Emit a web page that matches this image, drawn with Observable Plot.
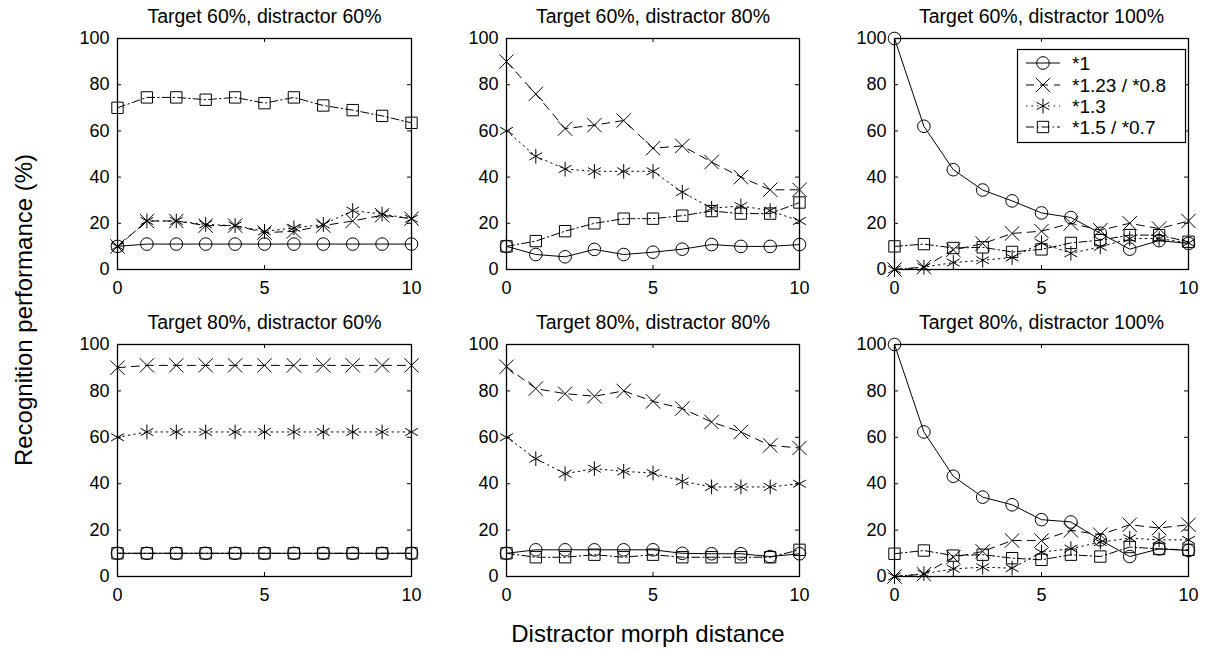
<!DOCTYPE html>
<html><head><meta charset="utf-8">
<script src="https://cdn.jsdelivr.net/npm/d3@7"></script>
<script src="https://cdn.jsdelivr.net/npm/@observablehq/plot@0.6"></script>
<style>
html,body{margin:0;padding:0;background:#fff;}
#fig{position:relative;width:1205px;height:652px;font-family:"Liberation Sans",Arial,sans-serif;overflow:hidden;}
#fig svg{position:absolute;overflow:visible;}
</style></head><body><div id="fig"></div>
<script>
// ---- data ----
const distance = [0, 1, 2, 3, 4, 5, 6, 7, 8, 9, 10];
const xTicks = [0, 5, 10];
const yTicks = [0, 20, 40, 60, 80, 100];
const seriesNames = ["*1", "*1.23 / *0.8", "*1.3", "*1.5 / *0.7"];
const panelTitles = [
  "Target 60%, distractor 60%", "Target 60%, distractor 80%", "Target 60%, distractor 100%",
  "Target 80%, distractor 60%", "Target 80%, distractor 80%", "Target 80%, distractor 100%"
];
const xLabel = "Distractor morph distance";
const yLabel = "Recognition performance (%)";

// Target 60%, distractor 60%
const t60d60_circle = [10, 11, 11, 11, 11, 11, 11, 11, 11, 11, 11];
const t60d60_times  = [10, 21, 21, 19, 19, 16, 16.5, 19, 21, 23.5, 22];
const t60d60_star   = [10, 21, 21, 19.5, 19, 16.5, 18, 19.5, 25.5, 24, 22];
const t60d60_square = [70, 74.5, 74.5, 73.5, 74.5, 72, 74.5, 71, 69, 66.5, 63.5];
// Target 60%, distractor 80%
const t60d80_circle = [10, 6.5, 5.5, 8.7, 6.5, 7.5, 8.8, 10.8, 10, 10, 10.8];
const t60d80_times  = [90, 76, 61, 62.5, 64.5, 52.5, 53.5, 46.5, 40, 34.5, 34.5];
const t60d80_star   = [60, 49, 43.5, 42.5, 42.5, 42.5, 33.5, 26.5, 27.5, 25.5, 21];
const t60d80_square = [10, 12.3, 16.6, 20, 22, 22, 23.3, 25.3, 24.2, 24.2, 29];
// Target 60%, distractor 100%
const t60d100_circle = [100, 62, 43.2, 34.4, 29.7, 24.5, 22.5, 15.7, 8.8, 12.5, 11.3];
const t60d100_times  = [0, 1, 8.5, 11.2, 15.6, 16.6, 20, 17, 20, 17.7, 21];
const t60d100_star   = [0, 1, 3, 4, 5.2, 11.5, 7, 9.8, 13.4, 13.4, 11.5];
const t60d100_square = [10, 11, 9.3, 9.6, 7.6, 8.7, 11.5, 12.7, 14.9, 14.9, 12];
// Target 80%, distractor 60%
const t80d60_circle = [10, 10, 10, 10, 10, 10, 10, 10, 10, 10, 10];
const t80d60_times  = [90, 91, 91, 91, 91, 91, 91, 91, 91, 91, 91];
const t80d60_star   = [60, 62.3, 62.3, 62.3, 62.3, 62.3, 62.3, 62.3, 62.3, 62.3, 62.3];
const t80d60_square = [10, 10, 10, 10, 10, 10, 10, 10, 10, 10, 10];
// Target 80%, distractor 80%
const t80d80_circle = [10, 11.5, 11.5, 11.5, 11.5, 11.5, 10, 9.8, 9.8, 8.6, 9.8];
const t80d80_times  = [90.4, 81, 78.8, 77.7, 80, 75.5, 72.4, 66.6, 62.3, 56.5, 55.4];
const t80d80_star   = [60, 50.8, 44.3, 46.5, 45.3, 44.6, 41, 38.6, 38.6, 38.6, 40];
const t80d80_square = [10, 8.3, 8.3, 9.4, 8.3, 9.4, 8.3, 8.3, 8.3, 8.3, 11.5];
// Target 80%, distractor 100%
const t80d100_circle = [100, 62.3, 43.2, 34.2, 30.9, 24.5, 23.5, 15.8, 8.6, 11.9, 11.2];
const t80d100_times  = [0, 1, 8.3, 10.8, 15.5, 15.5, 19.9, 18, 22.3, 20.9, 22.3];
const t80d100_star   = [0, 1.2, 3.3, 4, 3.6, 10.5, 12, 14.8, 16.5, 15.8, 15.8];
const t80d100_square = [9.8, 11.2, 9, 9.4, 7.9, 7.2, 9.4, 8.6, 12.7, 11.9, 11.5];

const panelSeries = [
  [t60d60_circle, t60d60_times, t60d60_star, t60d60_square],
  [t60d80_circle, t60d80_times, t60d80_star, t60d80_square],
  [t60d100_circle, t60d100_times, t60d100_star, t60d100_square],
  [t80d60_circle, t80d60_times, t80d60_star, t80d60_square],
  [t80d80_circle, t80d80_times, t80d80_star, t80d80_square],
  [t80d100_circle, t80d100_times, t80d100_star, t80d100_square]
];

// ---- styles / layout ----
const styles = [
  {symbol: "circle",   d3sym: d3.symbolCircle,   r: 6.3, dash: null},
  {symbol: "times",    d3sym: d3.symbolTimes,    r: 6.6, dash: "8,6"},
  {symbol: "asterisk", d3sym: d3.symbolAsterisk, r: 7.0, dash: "1.5,4"},
  {symbol: "square",   d3sym: d3.symbolSquare,   r: 6.4, dash: "8,3,1.5,3"}
];
const colLeft = [117, 506, 894], colWidth = [294, 293, 294];
const rowTop = [38, 344], rowHeight = [231, 232];
const FONT = '"Liberation Sans", Arial, sans-serif';
const mL = 70, mR = 20, mT = 38, mB = 35;

const fig = document.getElementById("fig");

panelSeries.forEach((series, p) => {
  const col = p % 3, row = Math.floor(p / 3);
  const W = colWidth[col], H = rowHeight[row];
  const marks = [];
  series.forEach((vals, si) => {
    const d = vals.map((v, i) => ({x: distance[i], y: v}));
    const st = styles[si];
    marks.push(Plot.line(d, {x: "x", y: "y", stroke: "black", strokeWidth: 1, strokeDasharray: st.dash}));
    marks.push(Plot.dot(d, {x: "x", y: "y", symbol: st.symbol, r: st.r, stroke: "black", fill: "none", strokeWidth: 1}));
  });
  // inward ticks on all four sides
  marks.push(Plot.ruleY(yTicks.slice(1, -1), {y: d => d, x1: 0, x2: 0, insetRight: -4, stroke: "black"}));
  marks.push(Plot.ruleY(yTicks.slice(1, -1), {y: d => d, x1: 10, x2: 10, insetLeft: -4, stroke: "black"}));
  marks.push(Plot.ruleX([5], {x: d => d, y1: 0, y2: 0, insetTop: -4, stroke: "black"}));
  marks.push(Plot.ruleX([5], {x: d => d, y1: 100, y2: 100, insetBottom: -4, stroke: "black"}));
  marks.push(Plot.frame({stroke: "black", strokeWidth: 1.3}));
  marks.push(Plot.axisX({ticks: xTicks, tickSize: 0, tickPadding: 12, label: null, tickFormat: d => String(d)}));
  marks.push(Plot.axisY({ticks: yTicks, tickSize: 0, tickPadding: 8, label: null, tickFormat: d => String(d)}));
  marks.push(Plot.text([panelTitles[p]], {text: d => d, frameAnchor: "top", lineAnchor: "bottom", dy: -16, fontSize: 19.5, fill: "black"}));
  const chart = Plot.plot({
    width: mL + W + mR, height: mT + H + mB,
    marginLeft: mL, marginRight: mR, marginTop: mT, marginBottom: mB,
    x: {domain: [0, 10], label: null},
    y: {domain: [0, 100], label: null},
    style: {fontFamily: FONT, fontSize: "18px", color: "black", background: "transparent", overflow: "visible"},
    marks
  });
  chart.style.left = (colLeft[col] - mL) + "px";
  chart.style.top = (rowTop[row] - mT) + "px";
  fig.appendChild(chart);
});

// ---- overlay: legend and shared axis labels ----
const ov = d3.select(fig).append("svg")
  .attr("width", 1205).attr("height", 652)
  .style("left", "0px").style("top", "0px")
  .style("font-family", FONT);

const lg = ov.append("g");
lg.append("rect").attr("x", 1017.5).attr("y", 49.5).attr("width", 168).attr("height", 93)
  .attr("fill", "white").attr("stroke", "black").attr("stroke-width", 1.2);
const legendRowY = [63, 85, 106, 127];
styles.forEach((st, i) => {
  const y = legendRowY[i];
  lg.append("line").attr("x1", 1026).attr("x2", 1060).attr("y1", y).attr("y2", y)
    .attr("stroke", "black").attr("stroke-width", 1).attr("stroke-dasharray", st.dash);
  lg.append("path").attr("transform", `translate(1043,${y})`)
    .attr("d", d3.symbol(st.d3sym, Math.PI * st.r * st.r)())
    .attr("fill", "none").attr("stroke", "black").attr("stroke-width", 1);
  lg.append("text").attr("x", 1072).attr("y", y).attr("dy", "0.35em")
    .attr("font-size", 19).text(seriesNames[i]);
});

ov.append("text").attr("x", 648).attr("y", 642).attr("text-anchor", "middle")
  .attr("font-size", 24).text(xLabel);
ov.append("text").attr("transform", "translate(32,310) rotate(-90)").attr("text-anchor", "middle")
  .attr("font-size", 24).text(yLabel);
</script></body></html>
